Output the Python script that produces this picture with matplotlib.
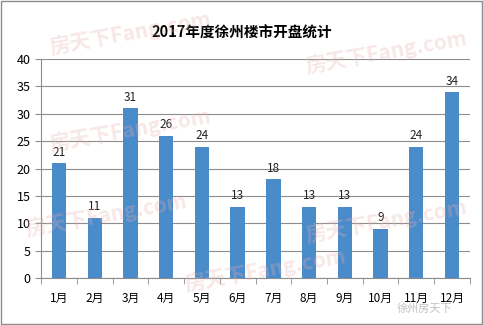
import matplotlib.pyplot as plt
import numpy as np

plt.rcParams['font.family'] = ['Noto Sans CJK SC', 'DejaVu Sans']

# данные
months = ['1月', '2月', '3月', '4月', '5月', '6月', '7月', '8月', '9月', '10月', '11月', '12月']
counts = [21, 11, 31, 26, 24, 13, 18, 13, 13, 9, 24, 34]
title = '2017年度徐州楼市开盘统计'
watermark = '房天下Fang.com'
badge = '徐州房天下'

fig = plt.figure(figsize=(4.83, 3.25), dpi=100)
ax = fig.add_axes([0.085, 0.145, 0.888, 0.673])

x = np.arange(len(months))
ax.bar(x, counts, width=0.4, color='#4A8BCA', zorder=3)

# подписи значений над столбцами
for xi, v in zip(x, counts):
    ax.text(xi, v + 0.8, str(v), ha='center', va='bottom', fontsize=8.5, color='#222222')

ax.set_ylim(0, 40)
ax.set_xlim(-0.5, len(months) - 0.5)
ax.set_yticks(range(0, 41, 5))
ax.yaxis.grid(True, color='#8c8c8c', linewidth=0.8, zorder=0)
ax.set_axisbelow(True)

ax.set_xticks(x)
ax.set_xticklabels(months, fontsize=8.5)
ax.set_xticks(np.arange(-0.5, len(months)), minor=True)
ax.tick_params(axis='x', which='major', length=0, pad=10)
ax.tick_params(axis='x', which='minor', length=4, color='#8c8c8c', direction='out')
ax.tick_params(axis='y', length=4, color='#8c8c8c', labelsize=9, direction='out')

for s in ['top', 'right']:
    ax.spines[s].set_visible(False)
ax.spines['left'].set_color('#8c8c8c')
ax.spines['bottom'].set_color('#8c8c8c')

fig.text(0.5, 0.9, title, ha='center', va='center', fontsize=10.5, fontweight='bold')

# водяные знаки (бледные)
wm = dict(color='#e9b0b0', alpha=0.3, fontweight='bold', zorder=10,
          fontsize=15, rotation=10, ha='center', va='center')
fig.text(0.27, 0.9, watermark, **wm)
fig.text(0.8, 0.84, watermark, **wm)
fig.text(0.27, 0.6, watermark, **wm)
fig.text(0.8, 0.32, watermark, **wm)
fig.text(0.22, 0.34, watermark, **wm)
fig.text(0.55, 0.17, watermark, **wm)
fig.text(0.88, 0.05, badge, fontsize=8, ha='center', va='center', color='#999999', alpha=0.6)

# рамка вокруг рисунка
fig.patches.append(plt.Rectangle((0.003, 0.004), 0.994, 0.992, transform=fig.transFigure,
                                 fill=False, edgecolor='#8c8c8c', linewidth=1))

fig.savefig('out.png', dpi=100, facecolor='white')
